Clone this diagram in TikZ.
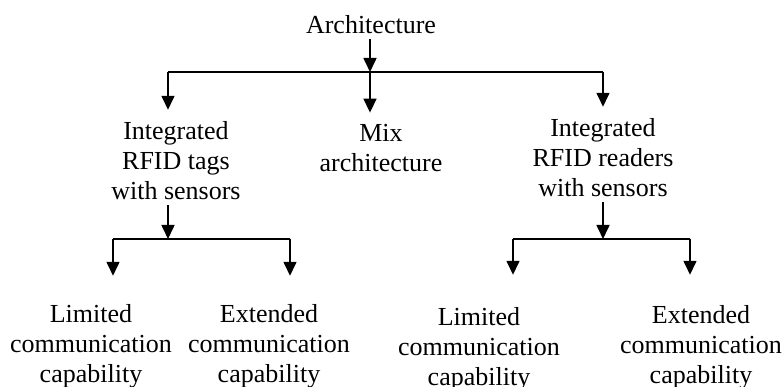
\documentclass[tikz,border=0pt]{standalone}
\usepackage{fontspec}
\setmainfont{Liberation Serif}
\usetikzlibrary{arrows.meta, positioning, calc}

\begin{document}
\begin{tikzpicture}[
  x=1pt, y=-1pt,
  >={Triangle[length=14pt, width=13pt]},
  lbl/.style={align=center, anchor=base, inner sep=0pt, font=\fontsize{26}{30}\selectfont},
  link/.style={draw, line width=1.6pt},
  branch/.style={draw, line width=1.6pt, ->, shorten >=12pt},
  stem/.style={draw, line width=1.6pt, ->, shorten <=5pt}
  ]
  \useasboundingbox (0,0) rectangle (782,387);
  % top level
  \node[lbl] (arch) at (371,34) {Architecture};
  \coordinate (t0) at (370,72);
  \coordinate (t1) at (168,72);
  \coordinate (t2) at (603,72);
  \node[lbl] (tags) at (176,200) {Integrated\\RFID tags\\with sensors};
  \node[lbl] (mix) at (381,172) {Mix\\architecture};
  \node[lbl] (readers) at (603,197) {Integrated\\RFID readers\\with sensors};
  \draw[stem] (arch.south -| t0) -- (t0);
  \draw[link] (t1) -- (t2);
  \draw[branch] (t1) -- (t1 |- tags.north);
  \draw[branch] (t0) -- (t0 |- mix.north);
  \draw[branch] (t2) -- (t2 |- readers.north);
  % left branch
  \coordinate (l0) at (168,239);
  \coordinate (l1) at (113,239);
  \coordinate (l2) at (290,239);
  \node[lbl] (limA) at (91,382) {Limited\\communication\\capability};
  \node[lbl] (extA) at (269,382) {Extended\\communication\\capability};
  \draw[stem] (tags.south -| l0) -- (l0);
  \draw[link] (l1) -- (l2);
  \draw[branch, shorten >=28pt] (l1) -- (l1 |- limA.north);
  \draw[branch, shorten >=28pt] (l2) -- (l2 |- extA.north);
  % right branch
  \coordinate (r0) at (603,239);
  \coordinate (r1) at (513,239);
  \coordinate (r2) at (690,239);
  \node[lbl] (limB) at (479,385) {Limited\\communication\\capability};
  \node[lbl] (extB) at (701,383) {Extended\\communication\\capability};
  \draw[stem] (readers.south -| r0) -- (r0);
  \draw[link] (r1) -- (r2);
  \draw[branch, shorten >=32pt] (r1) -- (r1 |- limB.north);
  \draw[branch, shorten >=30pt] (r2) -- (r2 |- extB.north);
\end{tikzpicture}
\end{document}
